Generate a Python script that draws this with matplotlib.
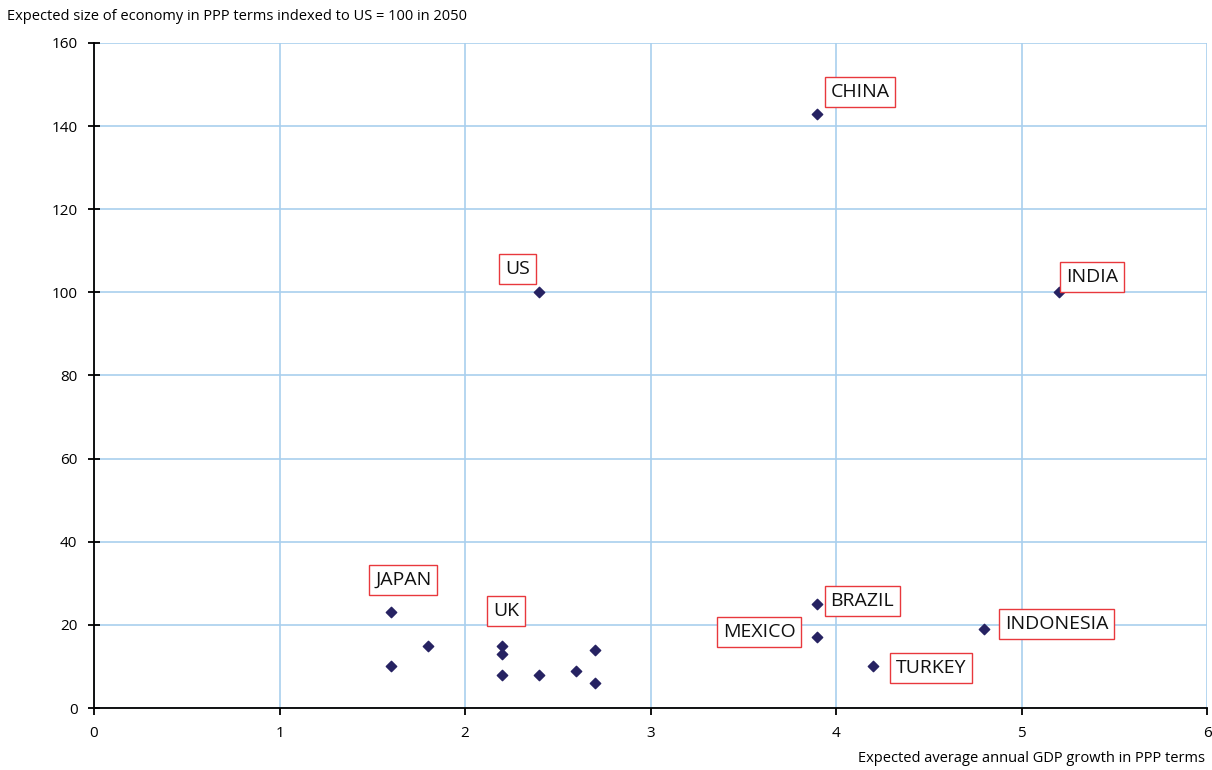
import matplotlib.pyplot as plt

plt.rcParams["font.family"] = ["Open Sans", "DejaVu Sans"]

growth = [3.9, 2.4, 5.2, 1.6, 1.6, 1.8, 2.2, 2.2, 2.2, 2.4, 2.6, 2.7, 2.7, 3.9, 3.9, 4.2, 4.8]
size = [143, 100, 100, 23, 10, 15, 15, 13, 8, 8, 9, 14, 6, 25, 17, 10, 19]

labels = ["CHINA", "US", "INDIA", "JAPAN", "UK", "BRAZIL", "MEXICO", "INDONESIA", "TURKEY"]
label_x = [3.97, 2.215, 5.24, 1.515, 2.15, 3.97, 3.39, 4.91, 4.32]
label_y = [148.2, 105.6, 103.7, 30.8, 23.3, 25.7, 18.3, 20.2, 9.6]

fig = plt.figure(figsize=(12.12, 7.7), dpi=100)
ax = fig.add_axes([0.0776, 0.0805, 0.9183, 0.8637])

ax.scatter(growth, size, marker="D", s=28, color="#262262", zorder=3)

for name, lx, ly in zip(labels, label_x, label_y):
    ax.text(lx, ly, name, ha="left", va="center", fontsize=14, color="#111111",
            bbox=dict(boxstyle="square,pad=0.3", facecolor="white",
                      edgecolor="#e8383d", linewidth=1.0), zorder=4)

ax.set_xlim(0, 6)
ax.set_ylim(0, 160)
ax.set_xticks(range(0, 7))
ax.set_yticks(range(0, 161, 20))
ax.grid(True, color="#a9cfee", linewidth=1.2)
ax.set_axisbelow(True)
for side in ["top", "right"]:
    ax.spines[side].set_visible(False)
for side in ["left", "bottom"]:
    ax.spines[side].set_linewidth(1.3)
ax.tick_params(axis="y", direction="inout", length=8, width=1.3, labelsize=11, pad=8)
ax.tick_params(axis="x", direction="out", length=5, width=1.3, labelsize=11, pad=8)

fig.text(7 / 1212, 1 - 16 / 770, "Expected size of economy in PPP terms indexed to US = 100 in 2050",
         ha="left", va="center", fontsize=10.5)
fig.text(1205 / 1212, 1 - 758 / 770, "Expected average annual GDP growth in PPP terms",
         ha="right", va="center", fontsize=10.5)

fig.savefig("out.png", dpi=100)
